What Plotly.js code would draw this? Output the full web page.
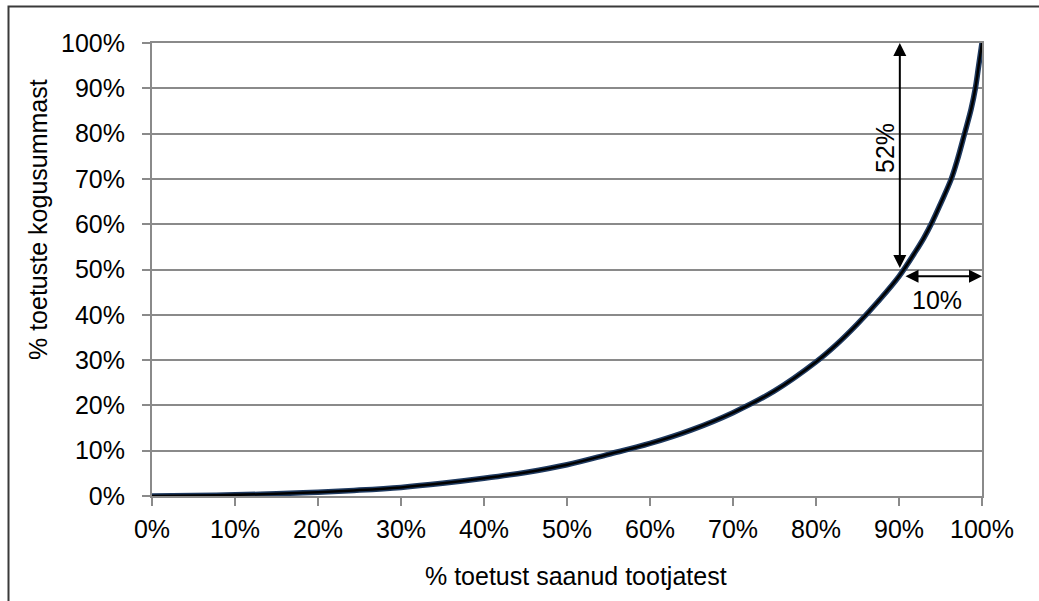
<!DOCTYPE html>
<html>
<head>
<meta charset="utf-8">
<script src="https://cdn.plot.ly/plotly-3.0.1.min.js"></script>
<style>
html,body{margin:0;padding:0;background:#fff;}
#chart{width:1039px;height:601px;}
</style>
</head>
<body>
<div id="chart"></div>
<script>
// Lorenz-type curve: share of recipients (x, %) vs share of total support (y, %)
const xShare = [0, 5, 10, 15, 20, 25, 30, 35, 40, 45, 50, 55, 60, 65, 70, 75, 80, 82.5, 85, 87.5, 90, 92, 93, 94, 95, 96.3, 97, 97.9, 98.7, 99.2, 99.6, 100];
const yShare = [0, 0.1, 0.25, 0.5, 0.85, 1.3, 1.9, 2.8, 3.9, 5.2, 6.9, 9.2, 11.6, 14.6, 18.4, 23.2, 29.6, 33.5, 38, 43, 48.5, 54, 57, 60.5, 64.5, 70, 74, 80, 85.5, 90, 95, 100];
const tickVals = [0, 10, 20, 30, 40, 50, 60, 70, 80, 90, 100];
const tickText = ['0%', '10%', '20%', '30%', '40%', '50%', '60%', '70%', '80%', '90%', '100%'];
const xTitle = '% toetust saanud tootjatest';
const yTitle = '% toetuste kogusummast';
// annotation values: top 10% receive 52%
const vArrowX = 90.1, vArrowTop = 100, vArrowBottom = 50;
const hArrowY = 48.5, hArrowLeft = 90.6, hArrowRight = 100;
const vLabel = '52%', hLabel = '10%';

const font = 'Liberation Sans, Arial, sans-serif';
const gray = '#8a8a8a';

const traces = [
  {x: xShare, y: yShare, mode: 'lines', line: {color: '#1f3a60', width: 5.5, shape: 'spline', smoothing: 1}, hoverinfo: 'skip', showlegend: false},
  {x: xShare, y: yShare, mode: 'lines', line: {color: '#000000', width: 2.5, shape: 'spline', smoothing: 1}, showlegend: false}
];

const L = 152, R = 982, T = 43, B = 496, W = 1039, H = 601;
const px = v => (v - L) / (R - L);
const py = v => (B - v) / (B - T);

const layout = {
  width: W, height: H,
  margin: {l: L, r: W - R, t: T, b: H - B, pad: 0},
  paper_bgcolor: '#ffffff', plot_bgcolor: '#ffffff',
  font: {family: font, size: 25, color: '#000'},
  showlegend: false,
  xaxis: {
    range: [0, 100], tickvals: tickVals, ticktext: tickText,
    showgrid: false, zeroline: false,
    showline: true, linecolor: gray, linewidth: 2, mirror: true,
    ticks: 'outside', ticklen: 8, tickwidth: 2, tickcolor: gray,
    ticklabelstandoff: 2,
    tickfont: {family: font, size: 25, color: '#000'}
  },
  yaxis: {
    range: [0, 100], tickvals: tickVals, ticktext: tickText,
    showgrid: true, gridcolor: gray, gridwidth: 2, zeroline: false,
    showline: true, linecolor: gray, linewidth: 2, mirror: true,
    ticks: 'outside', ticklen: 8, tickwidth: 2, tickcolor: gray,
    ticklabelstandoff: 12,
    tickfont: {family: font, size: 25, color: '#000'}
  },
  shapes: [
    {type: 'rect', xref: 'paper', yref: 'paper', x0: px(8.5), x1: px(1060), y0: py(620), y1: py(6.5),
     line: {color: '#3a3a3a', width: 2}, fillcolor: 'rgba(0,0,0,0)', layer: 'below'}
  ],
  annotations: [
    {x: vArrowX, y: vArrowTop, ax: vArrowX, ay: vArrowBottom, xref: 'x', yref: 'y', axref: 'x', ayref: 'y',
     text: '', showarrow: true, arrowside: 'end+start', arrowhead: 2, startarrowhead: 2,
     arrowsize: 1.3, startarrowsize: 1.3, arrowwidth: 2, arrowcolor: '#000', standoff: 0, startstandoff: 0},
    {x: hArrowRight, y: hArrowY, ax: hArrowLeft, ay: hArrowY, xref: 'x', yref: 'y', axref: 'x', ayref: 'y',
     text: '', showarrow: true, arrowside: 'end+start', arrowhead: 2, startarrowhead: 2,
     arrowsize: 1.3, startarrowsize: 1.3, arrowwidth: 2, arrowcolor: '#000', standoff: 0, startstandoff: 0},
    {x: 88.3, y: 76.8, xref: 'x', yref: 'y', text: vLabel, showarrow: false, textangle: -90,
     xanchor: 'center', yanchor: 'middle', font: {family: font, size: 25, color: '#000'}},
    {x: 94.6, y: 43.3, xref: 'x', yref: 'y', text: hLabel, showarrow: false,
     xanchor: 'center', yanchor: 'middle', font: {family: font, size: 25, color: '#000'}},
    {x: px(576), y: py(576), xref: 'paper', yref: 'paper', text: xTitle, showarrow: false,
     xanchor: 'center', yanchor: 'middle', font: {family: font, size: 25, color: '#000'}},
    {x: px(38), y: py(220), xref: 'paper', yref: 'paper', text: yTitle, showarrow: false, textangle: -90,
     xanchor: 'center', yanchor: 'middle', font: {family: font, size: 25, color: '#000'}}
  ]
};

Plotly.newPlot('chart', traces, layout, {displayModeBar: false, staticPlot: true});
</script>
</body>
</html>
